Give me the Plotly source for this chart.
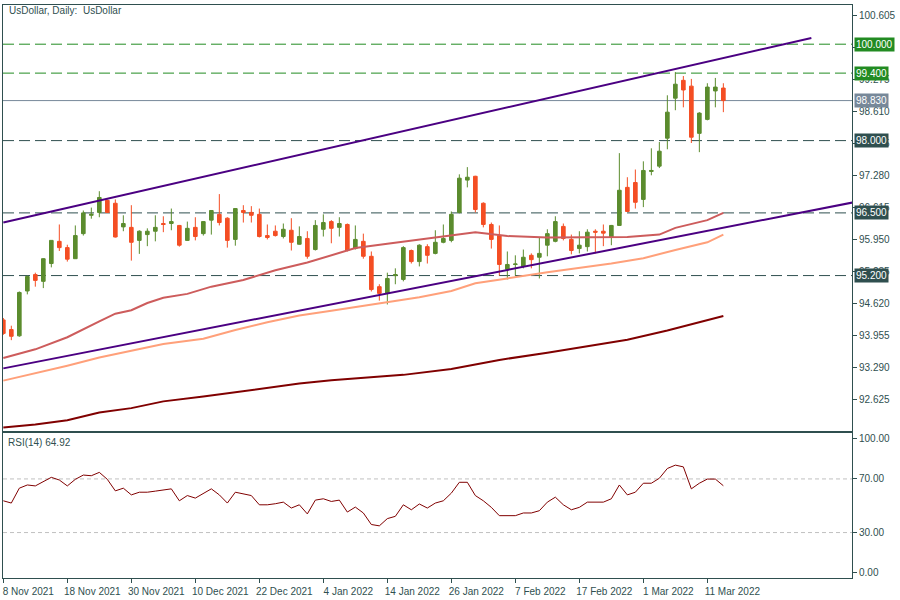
import pandas as pd
import plotly.graph_objects as go

# ---------------- data ----------------
trade_days = pd.bdate_range("2021-11-08", "2022-04-07")
trade_days = trade_days[trade_days != pd.Timestamp("2021-12-24")]
dates = [d.strftime("%Y-%m-%d") for d in trade_days]

open_ = [94.28, 94.08, 93.95, 94.88, 95.22, 95.08, 95.45, 95.91, 95.78, 95.55,
         96.07, 96.45, 96.51, 96.76, 96.70, 96.21, 96.20, 95.93, 96.05, 96.12,
         96.28, 96.28, 96.24, 95.93, 96.20, 96.07, 96.35, 96.47, 96.39, 95.95,
         96.55, 96.51, 96.47, 96.03, 96.12, 96.01, 96.14, 95.85, 95.97, 95.74,
         96.16, 96.32, 96.20, 96.26, 95.76, 95.91, 95.60, 94.97, 94.83, 95.20,
         95.12, 95.72, 95.49, 95.80, 95.66, 95.89, 95.93, 96.51, 97.18, 97.26,
         96.70, 96.26, 96.03, 95.33, 95.43, 95.39, 95.62, 95.58, 95.83, 95.91,
         96.22, 95.95, 95.76, 95.80, 96.12, 96.12, 95.99, 96.24, 97.03, 97.13,
         96.78, 97.36, 97.47, 98.05, 98.88, 99.25, 99.13, 98.15, 98.44, 99.03,
         99.09]
high = [94.32, 94.16, 94.87, 95.20, 95.26, 95.56, 95.93, 96.26, 95.84, 96.24,
        96.55, 96.61, 96.95, 96.78, 96.78, 96.45, 96.66, 96.14, 96.18, 96.45,
        96.43, 96.59, 96.25, 96.32, 96.41, 96.33, 96.56, 96.89, 96.41, 96.60,
        96.66, 96.64, 96.59, 96.26, 96.24, 96.28, 96.39, 96.22, 96.12, 96.35,
        96.47, 96.35, 96.41, 96.28, 96.24, 96.07, 95.70, 95.02, 95.26, 95.35,
        95.81, 95.74, 95.85, 95.85, 96.14, 96.26, 96.53, 97.30, 97.45, 97.27,
        96.72, 96.30, 96.24, 95.70, 95.62, 95.74, 95.66, 95.99, 96.16, 96.43,
        96.28, 96.05, 96.12, 96.16, 96.16, 96.26, 96.25, 97.74, 97.24, 97.40,
        97.57, 97.84, 97.97, 98.94, 99.42, 99.34, 99.28, 98.59, 99.19, 99.30,
        99.19]
low = [93.97, 93.86, 93.93, 94.81, 94.97, 94.94, 95.37, 95.71, 95.49, 95.55,
       96.03, 96.38, 96.41, 96.50, 95.99, 96.12, 95.51, 95.65, 95.81, 95.91,
       96.10, 96.14, 95.80, 95.92, 95.93, 96.03, 96.05, 96.24, 95.78, 95.82,
       96.30, 96.30, 95.99, 95.95, 96.01, 95.97, 95.72, 95.84, 95.55, 95.72,
       96.01, 95.87, 96.01, 95.70, 95.74, 95.55, 94.87, 94.68, 94.60, 95.02,
       95.08, 95.45, 95.39, 95.45, 95.64, 95.87, 95.89, 96.49, 97.03, 96.51,
       96.20, 95.76, 95.20, 95.12, 95.20, 95.35, 95.35, 95.14, 95.60, 95.89,
       95.93, 95.64, 95.66, 95.70, 95.66, 95.81, 95.83, 96.23, 96.52, 96.59,
       96.62, 97.28, 97.43, 97.82, 98.63, 98.69, 97.95, 97.76, 98.42, 98.69,
       98.59]
close = [94.00, 93.94, 94.85, 95.18, 95.10, 95.55, 95.93, 95.78, 95.54, 96.03,
         96.50, 96.47, 96.82, 96.51, 96.00, 96.28, 95.89, 96.12, 96.12, 96.20,
         96.26, 96.32, 95.83, 96.18, 96.01, 96.32, 96.55, 96.30, 95.93, 96.59,
         96.51, 96.45, 96.01, 95.99, 96.03, 96.16, 95.89, 96.01, 95.60, 96.24,
         96.30, 96.18, 96.28, 95.72, 95.95, 95.60, 94.91, 94.83, 95.14, 95.22,
         95.78, 95.49, 95.83, 95.62, 95.89, 95.97, 96.47, 97.22, 97.24, 96.57,
         96.26, 95.95, 95.43, 95.43, 95.44, 95.58, 95.53, 95.66, 96.07, 96.32,
         95.97, 95.72, 95.83, 96.10, 96.10, 96.08, 96.24, 96.97, 96.53, 96.72,
         97.38, 97.38, 97.78, 98.59, 99.17, 99.05, 98.07, 98.57, 99.11, 99.11,
         98.83]

ma_fast_idx = [0, 4, 8, 10, 12, 14, 16, 18, 20, 23, 26, 30, 34, 38, 42, 44, 48, 52,
               56, 59, 63, 68, 78, 82, 84, 86, 88, 90]
ma_fast_val = [93.49, 93.67, 93.92, 94.09, 94.25, 94.41, 94.48, 94.63, 94.74, 94.82,
               94.97, 95.11, 95.31, 95.47, 95.68, 95.77, 95.86, 95.95, 96.04, 96.10,
               96.02, 95.99, 96.00, 96.05, 96.19, 96.27, 96.35, 96.50]
ma_mid_idx = [0, 4, 8, 12, 16, 20, 25, 29, 33, 37, 41, 45, 48, 52, 56, 59, 63, 68,
              76, 80, 84, 88, 90]
ma_mid_val = [93.02, 93.17, 93.33, 93.50, 93.64, 93.78, 93.89, 94.07, 94.23, 94.37,
              94.47, 94.57, 94.65, 94.75, 94.88, 95.04, 95.14, 95.27, 95.45, 95.56,
              95.73, 95.89, 96.05]
ma_slow_idx = [0, 4, 8, 12, 16, 20, 25, 29, 33, 37, 41, 45, 50, 56, 62, 68, 75, 78,
               83, 87, 90]
ma_slow_val = [92.05, 92.11, 92.20, 92.36, 92.45, 92.59, 92.69, 92.78, 92.87, 92.96,
               93.03, 93.08, 93.14, 93.26, 93.45, 93.60, 93.78, 93.87, 94.06, 94.23,
               94.36]

upper_trend_idx = [0, 101]
upper_trend_val = [96.30, 100.13]
lower_trend_idx = [0, 107]
lower_trend_val = [93.275, 96.743]

rsi = [53.7, 52.0, 63.1, 65.5, 64.8, 68.0, 71.2, 69.2, 64.8, 69.7,
       72.9, 72.4, 74.9, 69.7, 61.1, 63.1, 58.1, 60.1, 60.1, 60.9,
       61.6, 62.6, 53.7, 57.6, 55.7, 59.4, 62.6, 58.1, 52.0, 60.1,
       58.6, 57.6, 50.7, 50.7, 51.5, 52.7, 48.3, 50.7, 43.9, 54.2,
       55.2, 53.2, 54.2, 45.3, 49.0, 44.6, 36.0, 35.0, 40.4, 42.1,
       50.7, 47.0, 51.3, 48.3, 52.0, 53.7, 59.4, 67.5, 67.5, 57.6,
       53.7, 48.8, 42.6, 42.6, 42.6, 44.6, 44.6, 46.3, 52.7, 56.4,
       50.7, 47.0, 48.8, 52.7, 52.7, 52.7, 55.2, 65.5, 58.1, 60.1,
       66.8, 66.8, 70.5, 77.8, 80.3, 79.0, 62.6, 66.8, 69.9, 69.9,
       64.92]

green_levels = [100.0, 99.4]
dark_levels = [98.0, 96.5, 95.2]
last_price = 98.83
rsi_levels = [70, 30]

tick_dates = ["2021-11-08", "2021-11-18", "2021-11-30", "2021-12-10", "2021-12-22",
              "2022-01-04", "2022-01-14", "2022-01-26", "2022-02-07", "2022-02-17",
              "2022-03-01", "2022-03-11"]
tick_text = [f"{pd.Timestamp(d).day} {pd.Timestamp(d).strftime('%b %Y')}" for d in tick_dates]

# ---------------- style ----------------
FONT = "Liberation Sans"
TXT = "#2f4f4f"
FRAME = "#2f4f4f"
BULL = "#5b8c2e"
BEAR = "#f44e24"
GREEN_LVL = "#228b22"
DARK_LVL = "#2f4f4f"
PRICE_LINE = "#778899"

n = len(open_)
bars = dates[:n]

fig = go.Figure()

fig.add_trace(go.Candlestick(
    x=bars, open=open_, high=high, low=low, close=close,
    increasing=dict(line=dict(color=BULL, width=1), fillcolor=BULL),
    decreasing=dict(line=dict(color=BEAR, width=1), fillcolor=BEAR),
    whiskerwidth=0, showlegend=False, xaxis="x", yaxis="y", hoverinfo="skip"))

for idx, val, col in [(ma_slow_idx, ma_slow_val, "#800000"),
                      (ma_mid_idx, ma_mid_val, "#ffa07a"),
                      (ma_fast_idx, ma_fast_val, "#cd5c5c")]:
    fig.add_trace(go.Scatter(x=[dates[i] for i in idx], y=val, mode="lines",
                             line=dict(color=col, width=2), showlegend=False,
                             xaxis="x", yaxis="y", hoverinfo="skip"))

for idx, val in [(upper_trend_idx, upper_trend_val), (lower_trend_idx, lower_trend_val)]:
    fig.add_trace(go.Scatter(x=[dates[i] for i in idx], y=val, mode="lines",
                             line=dict(color="#4b0082", width=2), showlegend=False,
                             xaxis="x", yaxis="y", hoverinfo="skip"))

fig.add_trace(go.Scatter(x=bars, y=rsi, mode="lines",
                         line=dict(color="#800000", width=1), showlegend=False,
                         xaxis="x2", yaxis="y2", hoverinfo="skip"))

shapes = []
annotations = []
for lv in green_levels:
    shapes.append(dict(type="line", xref="paper", x0=0, x1=1, yref="y", y0=lv, y1=lv,
                       line=dict(color=GREEN_LVL, width=1, dash="11px,5px"), layer="below"))
    annotations.append(dict(xref="paper", x=1, xanchor="left", xshift=2, yref="y", y=lv,
                            text=f"{lv:.3f}", showarrow=False, bgcolor=GREEN_LVL,
                            font=dict(color="white", size=10, family=FONT), borderpad=1))
for lv in dark_levels:
    shapes.append(dict(type="line", xref="paper", x0=0, x1=1, yref="y", y0=lv, y1=lv,
                       line=dict(color=DARK_LVL, width=1, dash="11px,5px"), layer="below"))
    annotations.append(dict(xref="paper", x=1, xanchor="left", xshift=2, yref="y", y=lv,
                            text=f"{lv:.3f}", showarrow=False, bgcolor=DARK_LVL,
                            font=dict(color="white", size=10, family=FONT), borderpad=1))
shapes.append(dict(type="line", xref="paper", x0=0, x1=1, yref="y", y0=last_price, y1=last_price,
                   line=dict(color=PRICE_LINE, width=1), layer="below"))
annotations.append(dict(xref="paper", x=1, xanchor="left", xshift=2, yref="y", y=last_price,
                        text=f"{last_price:.3f}", showarrow=False, bgcolor=PRICE_LINE,
                        font=dict(color="white", size=10, family=FONT), borderpad=1))
for lv in rsi_levels:
    shapes.append(dict(type="line", xref="paper", x0=0, x1=1, yref="y2", y0=lv, y1=lv,
                       line=dict(color="#c0c0c0", width=1, dash="4px,3px"), layer="below"))

annotations.append(dict(xref="paper", yref="paper", x=0.005, y=0.991, xanchor="left",
                        yanchor="middle", text="UsDollar, Daily:\u00a0 UsDollar", showarrow=False,
                        font=dict(color=TXT, size=10, family=FONT)))
annotations.append(dict(xref="paper", yref="paper", x=0.004, y=0.237, xanchor="left",
                        yanchor="middle", text=f"RSI(14) {rsi[-1]:.2f}", showarrow=False,
                        font=dict(color=TXT, size=10, family=FONT)))

xcommon = dict(type="category", categoryorder="array", categoryarray=dates,
               range=[-0.04, 106.08], showline=True, mirror=True, linecolor=FRAME,
               linewidth=1, showgrid=False, zeroline=False)

fig.update_layout(
    width=900, height=600,
    margin=dict(l=3, r=48, t=5, b=22),
    paper_bgcolor="white", plot_bgcolor="white",
    font=dict(family=FONT, size=10, color=TXT),
    showlegend=False, hovermode=False, boxgap=0.35,
    xaxis=dict(**xcommon, domain=[0, 1], anchor="y", showticklabels=False, ticks="",
               rangeslider=dict(visible=False), matches="x2"),
    xaxis2=dict(**xcommon, domain=[0, 1], anchor="y2", tickmode="array",
                tickvals=tick_dates, ticktext=tick_text, ticks="outside", ticklen=4,
                tickcolor=FRAME, ticklabelshift=25, tickfont=dict(size=10, color=TXT)),
    yaxis=dict(domain=[0.2565, 1], anchor="x", side="right", range=[91.975, 100.813],
               tick0=92.625, dtick=0.665, tickformat=".3f", ticks="outside", ticklen=4,
               tickcolor=FRAME, showline=True, mirror=True, linecolor=FRAME,
               showgrid=False, zeroline=False, tickfont=dict(size=10, color=TXT)),
    yaxis2=dict(domain=[0, 0.2522], anchor="x2", side="right", range=[-3.9, 103.9],
                tickmode="array", tickvals=[0, 30, 70, 100], tickformat=".2f",
                ticks="outside", ticklen=4, tickcolor=FRAME, showline=True, mirror=True,
                linecolor=FRAME, showgrid=False, zeroline=False,
                tickfont=dict(size=10, color=TXT)),
    shapes=shapes, annotations=annotations,
)

fig.write_html("out.html", config={"displayModeBar": False},
               post_script="document.body.style.margin='0';document.body.style.overflow='hidden';")
